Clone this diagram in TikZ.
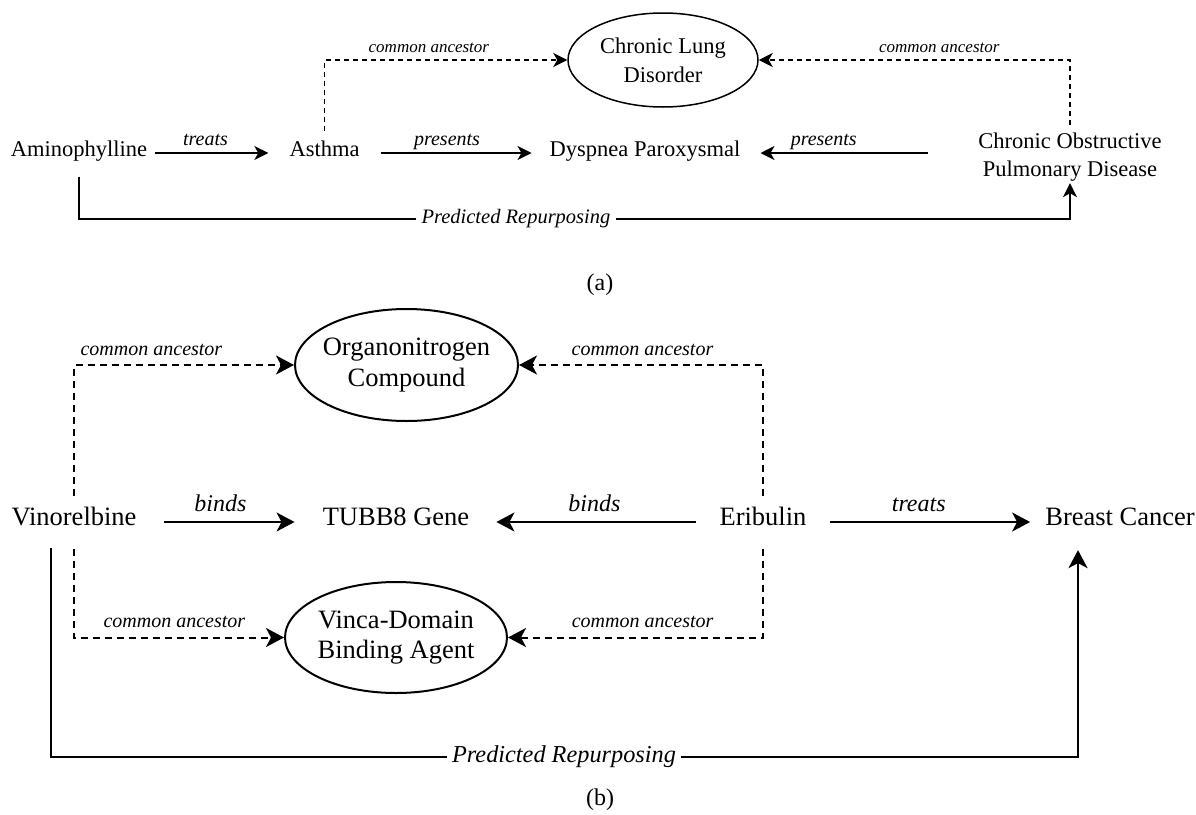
\documentclass[tikz,border=0pt]{standalone}
\usepackage{fontspec}
\setmainfont{Liberation Serif}
\usetikzlibrary{arrows.meta,shapes.geometric}

\begin{document}
\begin{tikzpicture}[x=1pt,y=-1pt,
 enta/.style={inner sep=0pt,text height=.8em,text depth=.06em,font=\fontsize{22.5}{28}\selectfont},
 entb/.style={inner sep=0pt,text height=.8em,text depth=.06em,font=\fontsize{26.5}{31}\selectfont},
 copda/.style={inner sep=0pt,align=center,text height=48pt,text depth=2pt,font=\fontsize{22.5}{28}\selectfont},
 clsa/.style={draw,ellipse,line width=1.5pt,inner sep=0pt,align=center,font=\fontsize{22.5}{29}\selectfont},
 clsb/.style={draw,ellipse,line width=2pt,inner sep=0pt,align=center,font=\fontsize{26.5}{30.5}\selectfont},
 rela/.style={inner sep=0pt,text depth=0pt,font=\itshape\fontsize{20}{24}\selectfont},
 relb/.style={inner sep=0pt,text depth=0pt,font=\itshape\fontsize{24}{28}\selectfont},
 anca/.style={inner sep=0pt,text depth=0pt,font=\itshape\fontsize{17}{20}\selectfont},
 ancb/.style={inner sep=0pt,text depth=0pt,font=\itshape\fontsize{20}{24}\selectfont},
 predla/.style={inner sep=5pt,font=\itshape\fontsize{20.5}{24}\selectfont},
 predlb/.style={inner sep=5pt,font=\itshape\fontsize{24.3}{28}\selectfont},
 capt/.style={inner sep=0pt,font=\fontsize{24}{28}\selectfont},
 linea/.style={line width=1.5pt},
 lineb/.style={line width=2pt},
 arra/.style={linea,-{Stealth[length=14pt,width=14pt,inset=4pt]}},
 arrb/.style={lineb,-{Stealth[length=18pt,width=19pt,inset=5pt]}},
 dasha/.style={arra,dash pattern=on 5pt off 4pt},
 dashb/.style={arrb,dash pattern=on 7pt off 5pt}]
\useasboundingbox (0,0) rectangle (1196,814);
\node[enta] (amino) at (79,153) {Aminophylline};
\node[enta] (asthma) at (324.5,153) {Asthma};
\node[enta] (dysp) at (645,153) {Dyspnea Paroxysmal};
\node[copda] (copd) at (1070,153) {Chronic Obstructive\\Pulmonary Disease};
\node[clsa,minimum width=190pt,minimum height=94pt] (lung) at (663,60) {Chronic Lung\\Disorder};
\node[predla] (repa) at (516,219) {Predicted Repurposing};
\node[capt] (capa) at (600,285) {(a)};
\draw[arra,shorten <=8pt,shorten >=21pt] (amino) -- node[rela,pos=.41,above=7pt] {treats} (asthma);
\draw[arra,shorten <=21pt,shorten >=18pt] (asthma) -- node[rela,pos=.46,above=7pt] {presents} (dysp);
\draw[arra,shorten <=50pt,shorten >=20pt] (copd) -- node[rela,pos=.65,above=7pt] {presents} (dysp);
\draw[dasha,shorten <=18pt] (asthma) |- node[anca,pos=.715,above=7pt] {common ancestor} (lung);
\draw[dasha,shorten <=3pt] (copd) |- node[anca,pos=.71,above=7pt] {common ancestor} (lung);
\draw[linea,shorten <=19pt] (amino) |- (repa);
\draw[arra,shorten >=5pt] (repa) -| (copd);
\node[entb] (vino) at (74,522) {Vinorelbine};
\node[entb] (tubb) at (396,522) {TUBB8 Gene};
\node[entb] (erib) at (763,522) {Eribulin};
\node[entb] (breast) at (1120,522) {Breast Cancer};
\node[clsb,inner xsep=-5pt,minimum width=223pt,minimum height=112pt] (organo) at (406.5,365) {Organonitrogen\\Compound};
\node[clsb,minimum width=222pt,minimum height=111pt] (vinca) at (396,637.5) {Vinca-Domain\\Binding Agent};
\node[predlb] (repb) at (564,757) {Predicted Repurposing};
\node[capt] (capb) at (600,800) {(b)};
\draw[arrb,shorten <=27pt,shorten >=28pt] (vino) -- node[relb,pos=.45,above=10pt] {binds} (tubb);
\draw[arrb,shorten <=23pt,shorten >=27pt] (erib) -- node[relb,pos=.5,above=10pt] {binds} (tubb);
\draw[arrb,shorten <=23pt,shorten >=15pt] (erib) -- node[relb,pos=.47,above=10pt] {treats} (breast);
\foreach \src/\dst/\p in {vino/organo/.676,erib/organo/.747,vino/vinca/.739,erib/vinca/.736}
 \draw[dashb,shorten <=22pt] (\src) |- node[ancb,pos=\p,above=9pt] {common ancestor} (\dst);
\draw[lineb,shorten <=21.6pt] ([xshift=-23pt]vino.south) |- (repb);
\draw[arrb,shorten >=23.6pt] (repb) -| ([xshift=-42pt]breast.south);
\end{tikzpicture}
\end{document}
